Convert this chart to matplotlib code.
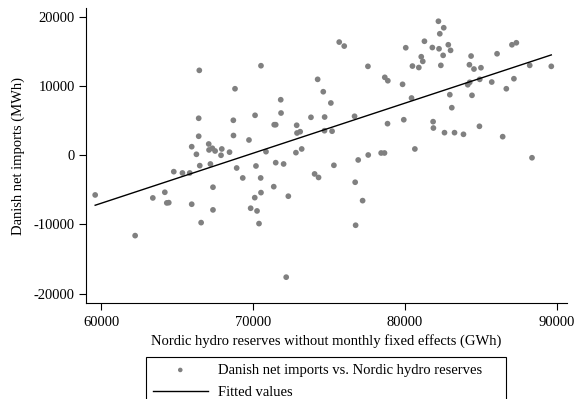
import numpy as np
import matplotlib
matplotlib.use('Agg')
import matplotlib.pyplot as plt

plt.rcParams['font.family'] = ['Liberation Serif', 'DejaVu Serif']
plt.rcParams['axes.unicode_minus'] = False

# Nordic hydro reserves (GWh) and Danish net imports (MWh)
hydro_reserves = [
    59605, 62236, 63400, 64190, 64320, 64450, 64780, 65350, 65830, 65960,
    65960, 66270, 66420, 66420, 66460, 66490, 66580, 67080, 67100, 67320,
    67500, 67190, 67360, 67360, 67940, 67890, 68450, 68710, 68700, 68810,
    68920, 69320, 69730, 69840, 70110, 70130, 70190, 70260, 70390, 70500,
    70520, 70520, 70850, 71360, 71390, 71490, 71490, 71820, 71840, 72010,
    72180, 72320, 72820, 72870, 72890, 73100, 73200, 73810, 74050, 74310,
    74250, 74620, 74710, 74700, 75120, 75200, 75320, 75670, 76000, 76680,
    76720, 76750, 76920, 77210, 77560, 77580, 78430, 78650, 78670, 78870,
    78850, 79840, 79920, 80050, 80430, 80490, 80650, 80910, 81070, 81170,
    81280, 81800, 81850, 81870, 82200, 82240, 82290, 82360, 82510, 82550,
    82600, 82850, 83000, 82950, 83080, 83260, 83850, 84130, 84260, 84240,
    84350, 84410, 84540, 84900, 84920, 85000, 85710, 86060, 86430, 86670,
    87040, 87170, 87330, 88210, 88360, 89630,
]
net_imports = [
    -5740, -11620, -6170, -5350, -6890, -6850, -2370, -2560, -2560, -7080,
    1240, 140, 2750, 5350, 12280, -1500, -9740, 1630, 770, 1010,
    620, -1260, -4620, -7900, 910, 0, 450, 2860, 5060, 9620,
    -1840, -3280, 2210, -7660, -6130, 5780, -1550, -8050, -9880, -3280,
    -5400, 12950, 520, -4540, 4420, 4420, -1070, 8030, 6110, -1260,
    -17630, -5920, 380, 4340, 3220, 3410, 910, 5490, -2700, -3210,
    10980, 9190, 5530, 3550, 7560, 3480, -1450, 16370, 15790, 5640,
    -3900, -10120, -680, -6560, 12860, 40, 330, 330, 11270, 10780,
    4570, 10260, 5140, 15550, 8280, 12900, 910, 12690, 14250, 13580,
    16490, 15580, 4860, 3940, 19380, 15400, 17570, 13000, 14450, 18440,
    3270, 15980, 15170, 8760, 6880, 3270, 3030, 10200, 10550, 13090,
    14350, 8670, 12470, 4190, 10980, 12660, 10590, 14680, 2690, 9620,
    15980, 11070, 16270, 13000, -360, 12860,
]

x = np.array(hydro_reserves)
y = np.array(net_imports)

# OLS fitted values
slope, intercept = np.polyfit(x, y, 1)
x_fit = np.array([x.min(), x.max()])
y_fit = intercept + slope * x_fit

fig = plt.figure(figsize=(5.76, 3.99), dpi=100)
ax = fig.add_axes([0.149, 0.240, 0.835, 0.740])

ax.scatter(x, y, s=17, color='#808080', edgecolors='none', zorder=2,
           label='Danish net imports vs. Nordic hydro reserves')
ax.plot(x_fit, y_fit, color='black', linewidth=1, zorder=3, label='Fitted values')

ax.set_xlim(58990, 90650)
ax.set_ylim(-21400, 21300)
ax.set_xticks([60000, 70000, 80000, 90000])
ax.set_yticks([-20000, -10000, 0, 10000, 20000])

for side in ['top', 'right']:
    ax.spines[side].set_visible(False)
for side in ['left', 'bottom']:
    ax.spines[side].set_linewidth(0.8)

ax.tick_params(direction='out', length=5, width=0.8, labelsize=10.5, pad=3)
ax.tick_params(axis='x', pad=4.5)
ax.set_xlabel('Nordic hydro reserves without monthly fixed effects (GWh)', fontsize=10.5, labelpad=3.5)
ax.set_ylabel('Danish net imports (MWh)', fontsize=10.5, labelpad=6)

# legend box sits below the axes and runs off the bottom edge, as in the original
leg = fig.legend(loc='upper left', bbox_to_anchor=(146 / 576, 0, 360 / 576, 42 / 399),
                 mode='expand', borderaxespad=0, fontsize=10.5,
                 frameon=True, fancybox=False, edgecolor='black', framealpha=1,
                 handlelength=3.8, handletextpad=0.7, borderpad=0.45, labelspacing=0.62,
                 markerscale=0.8, scatterpoints=1)
leg.get_frame().set_linewidth(0.8)

fig.savefig('out.png', dpi=100)
